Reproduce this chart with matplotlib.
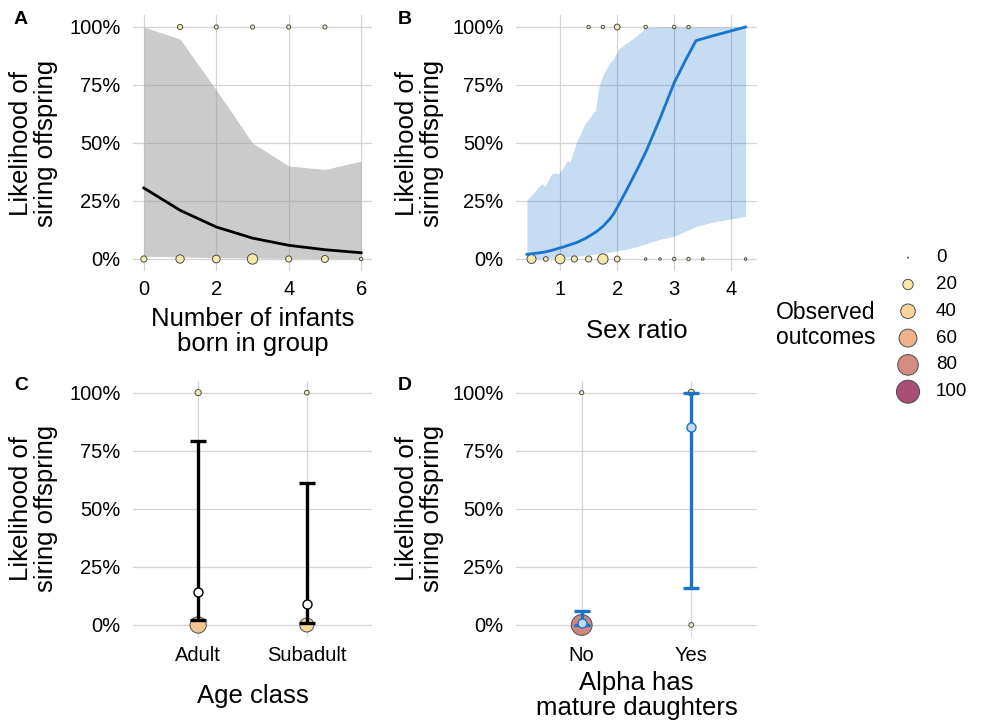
import numpy as np
import matplotlib
matplotlib.use("Agg")
import matplotlib.pyplot as plt
from matplotlib.colors import LinearSegmentedColormap
from matplotlib.ticker import FuncFormatter

plt.rcParams['font.family'] = ['Liberation Sans', 'DejaVu Sans']

# --- data -------------------------------------------------------------
# A: number of infants born in group
infants_x = [0, 1, 2, 3, 4, 5, 6]
infants_fit = [0.306, 0.210, 0.138, 0.090, 0.059, 0.040, 0.027]
infants_lower = [0.012, 0.009, 0.006, 0.004, 0.003, 0.002, 0.001]
infants_upper = [1.000, 0.948, 0.728, 0.500, 0.401, 0.386, 0.422]
infants_fail_x = [0, 1, 2, 3, 4, 5, 6]
infants_fail_n = [7, 13, 11, 20, 7, 9, 2]
infants_success_x = [1, 2, 3, 4, 5]
infants_success_n = [5, 3, 3, 3, 3]

# B: sex ratio
sexratio_x = [0.42, 0.52, 0.68, 0.73, 0.85, 0.91, 0.97, 1.06, 1.13, 1.17,
              1.29, 1.44, 1.62, 1.68, 1.76, 1.88, 1.94, 2.03, 2.15, 2.35,
              2.50, 2.75, 3.00, 3.20, 3.38, 3.69, 4.25]
sexratio_fit = [0.020, 0.023, 0.028, 0.030, 0.037, 0.041, 0.046, 0.052, 0.058, 0.061,
                0.071, 0.088, 0.115, 0.126, 0.143, 0.175, 0.195, 0.235, 0.290, 0.385,
                0.460, 0.605, 0.760, 0.858, 0.941, 0.963, 1.000]
sexratio_lower = [0.000, 0.001, 0.002, 0.002, 0.003, 0.004, 0.005, 0.006, 0.008, 0.009,
                  0.012, 0.017, 0.022, 0.024, 0.027, 0.030, 0.033, 0.037, 0.042, 0.053,
                  0.066, 0.085, 0.098, 0.120, 0.140, 0.160, 0.184]
sexratio_upper = [0.254, 0.280, 0.326, 0.311, 0.366, 0.372, 0.366, 0.397, 0.426, 0.415,
                  0.505, 0.584, 0.641, 0.742, 0.799, 0.849, 0.864, 0.907, 0.928, 0.964,
                  0.997, 1.000, 1.000, 1.000, 1.000, 1.000, 1.000]
sexratio_fail_x = [0.5, 0.75, 1, 1.25, 1.5, 1.75, 2, 2.5, 2.75, 3, 3.25, 3.5, 4.25]
sexratio_fail_n = [15, 4, 17, 7, 7, 20, 6, 1, 1, 2, 2, 1, 1]
sexratio_success_x = [1.5, 1.75, 2, 2.5, 3, 3.25]
sexratio_success_n = [2, 2, 6, 2, 2, 2]

# C: age class
age_classes = ['Adult', 'Subadult']
age_fail_n = [50, 37]
age_success_n = [7, 4]
age_est = [0.141, 0.089]
age_lo = [0.022, 0.009]
age_hi = [0.793, 0.611]

# D: alpha has mature daughters
daughters = ['No', 'Yes']
dau_fail_n = [81, 4]
dau_success_n = [3, 8]
dau_est = [0.010, 0.851]
dau_lo = [0.001, 0.161]
dau_hi = [0.060, 1.000]

legend_counts = [0, 20, 40, 60, 80, 100]

# --- styling helpers ----------------------------------------------------
BLUE = '#1874CD'
LIGHTBLUE = '#C5DAF0'
obs_cmap = LinearSegmentedColormap.from_list(
    'obs', [(0.0, '#F2EDB8'), (0.2, '#F7E7A6'), (0.4, '#F7D597'),
            (0.6, '#EFB38B'), (0.8, '#D48B81'), (1.0, '#A94F76')])


def obs_size(n):
    return 0.5184 * (1 + 5.3 * np.asarray(n, dtype=float))


def obs_color(n):
    return obs_cmap(np.asarray(n, dtype=float) / 100)


def observed(ax, x, n, y):
    ax.scatter(x, [y] * len(x), s=obs_size(n), c=obs_color(n),
               edgecolors='#4D4D4D', linewidths=0.7, zorder=2, clip_on=False)


W, H = 984, 722
fig = plt.figure(figsize=(W / 100, H / 100), dpi=100)


def px_axes(left, top, right, bottom):
    return fig.add_axes([left / W, 1 - bottom / H, (right - left) / W, (bottom - top) / H])


def style(ax, xlabel, xlab_y, ylab_x):
    ax.set_ylim(-0.05, 1.05)
    ax.set_yticks([0, 0.25, 0.5, 0.75, 1])
    ax.yaxis.set_major_formatter(FuncFormatter(lambda v, p: f'{v * 100:.0f}%'))
    for s in ax.spines.values():
        s.set_visible(False)
    ax.tick_params(length=0, labelsize=14.5, colors='black', pad=7)
    ax.tick_params(axis='y', pad=9)
    ax.grid(True, color='#D4D4D4', linewidth=0.9)
    ax.set_axisbelow(True)
    ax.set_xlabel(xlabel, fontsize=18.5, va='center', linespacing=1.05)
    ax.xaxis.set_label_coords(0.5, xlab_y)
    ax.set_ylabel('Likelihood of\nsiring offspring', fontsize=18.5, va='center',
                  linespacing=1.05)
    ax.yaxis.set_label_coords(ylab_x, 0.5)


axA = px_axes(133, 15.4, 372, 270.6)
axB = px_axes(516, 15.4, 757, 270.6)
axC = px_axes(133, 381, 372, 636.6)
axD = px_axes(516, 381, 757, 636.6)

# A
axA.fill_between(infants_x, infants_lower, infants_upper, color='#999999', alpha=0.5,
                 linewidth=0, zorder=1)
axA.plot(infants_x, infants_fit, color='black', lw=2.0, zorder=3)
observed(axA, infants_fail_x, infants_fail_n, 0)
observed(axA, infants_success_x, infants_success_n, 1)
axA.set_xlim(-0.3, 6.3)
axA.set_xticks([0, 2, 4, 6])
style(axA, 'Number of infants\nborn in group', -0.237, -0.418)

# B
axB.fill_between(sexratio_x, sexratio_lower, sexratio_upper, color=BLUE, alpha=0.25,
                 linewidth=0, zorder=1)
axB.plot(sexratio_x, sexratio_fit, color=BLUE, lw=2.0, zorder=3)
observed(axB, sexratio_fail_x, sexratio_fail_n, 0)
observed(axB, sexratio_success_x, sexratio_success_n, 1)
axB.set_xlim(0.228, 4.45)
axB.set_xticks([1, 2, 3, 4])
style(axB, 'Sex ratio', -0.237, -0.402)

# C
pos = np.arange(1, len(age_classes) + 1)
observed(axC, pos, age_fail_n, 0)
observed(axC, pos, age_success_n, 1)
axC.errorbar(pos, age_est, yerr=[np.subtract(age_est, age_lo), np.subtract(age_hi, age_est)],
             fmt='none', ecolor='black', elinewidth=2.4, capsize=6.1, capthick=2.4, zorder=3)
axC.scatter(pos, age_est, s=42, facecolor='white', edgecolor='black', linewidths=1, zorder=4)
axC.set_xlim(0.4, 2.6)
axC.set_xticks(pos)
axC.set_xticklabels(age_classes)
style(axC, 'Age class', -0.232, -0.418)

# D
pos = np.arange(1, len(daughters) + 1)
observed(axD, pos, dau_fail_n, 0)
observed(axD, pos, dau_success_n, 1)
axD.errorbar(pos, dau_est, yerr=[np.subtract(dau_est, dau_lo), np.subtract(dau_hi, dau_est)],
             fmt='none', ecolor=BLUE, elinewidth=2.4, capsize=6.1, capthick=2.4, zorder=3)
axD.scatter(pos, dau_est, s=42, facecolor=LIGHTBLUE, edgecolor=BLUE, linewidths=1, zorder=4)
axD.set_xlim(0.4, 2.6)
axD.set_xticks(pos)
axD.set_xticklabels(daughters)
style(axD, 'Alpha has\nmature daughters', -0.232, -0.402)

# panel tags
for tag, x, y in [('A', 21, 20), ('B', 405, 20), ('C', 21, 386), ('D', 405, 386)]:
    fig.text(x / W, 1 - y / H, tag, fontsize=14, fontweight='bold', ha='center', va='center')

# size / colour legend
fig.text(776 / W, 1 - 325 / H, 'Observed\noutcomes', fontsize=16.5, ha='left', va='center',
         linespacing=1.1)
axL = px_axes(888, 244.3, 928, 405.1)
axL.set_xlim(-1, 1)
axL.set_ylim(len(legend_counts) - 0.5, -0.5)
axL.axis('off')
idx = np.arange(len(legend_counts))
axL.scatter(np.zeros(len(idx)), idx, s=obs_size(legend_counts), c=obs_color(legend_counts),
            edgecolors='#4D4D4D', linewidths=0.7, clip_on=False)
for i, n in zip(idx, legend_counts):
    axL.text(1.4, i, str(n), fontsize=13.5, ha='left', va='center')

fig.savefig('out.png', dpi=100)
